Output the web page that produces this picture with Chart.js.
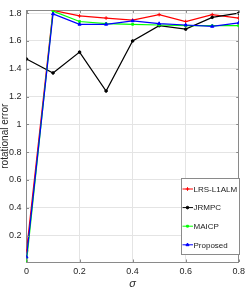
<!DOCTYPE html>
<html>
<head>
<meta charset="utf-8">
<script src="https://cdn.jsdelivr.net/npm/chart.js@4/dist/chart.umd.min.js"></script>
<style>
  body { margin: 0; background: #fff; }
  canvas { display: block; }
</style>
</head>
<body>
<canvas id="chart" width="249" height="291"></canvas>
<script>
// Data

const sigma = [0, 0.1, 0.2, 0.3, 0.4, 0.5, 0.6, 0.7, 0.8];

const lrsL1alm = [0.09, 1.82, 1.78, 1.765, 1.75, 1.79, 1.74, 1.79, 1.765];
const jrmpc = [1.47, 1.37, 1.52, 1.24, 1.6, 1.71, 1.685, 1.77, 1.8];
const maicp = [0.01, 1.815, 1.74, 1.725, 1.72, 1.715, 1.71, 1.71, 1.71];
const proposed = [0.045, 1.795, 1.72, 1.72, 1.745, 1.725, 1.715, 1.705, 1.73];

const xTicks = [0, 0.2, 0.4, 0.6, 0.8];
const yTicks = [0.2, 0.4, 0.6, 0.8, 1, 1.2, 1.4, 1.6, 1.8];

const FONT = "'Liberation Sans', Arial, sans-serif";
const AXIS = "#8a8a8a";
const GRID = "#e4e4e4";

const pts = (ys) => sigma.map((x, i) => ({ x: x, y: ys[i] }));

const series = (label, ys, color, style, radius, order) => ({
  label: label,
  data: pts(ys),
  borderColor: color,
  backgroundColor: color,
  borderWidth: 1.2,
  pointStyle: style,
  pointRadius: radius,
  pointBorderWidth: 1,
  pointHoverRadius: radius,
  tension: 0,
  order: order,
});

// MATLAB-style legend drawn inside the plot box
const boxLegend = {
  id: "boxLegend",
  afterDraw(chart) {
    const ctx = chart.ctx;
    const x0 = 181, y0 = 178, w = 58, h = 76;
    ctx.save();
    ctx.fillStyle = "#fff";
    ctx.fillRect(x0, y0, w, h);
    ctx.strokeStyle = AXIS;
    ctx.lineWidth = 1;
    ctx.strokeRect(x0 + 0.5, y0 + 0.5, w, h);
    ctx.font = "8px " + FONT;
    ctx.textBaseline = "middle";
    chart.data.datasets.forEach((ds, i) => {
      const y = y0 + 11 + i * 18.6;
      ctx.strokeStyle = ds.borderColor;
      ctx.lineWidth = 1;
      ctx.beginPath();
      ctx.moveTo(x0 + 1.5, y);
      ctx.lineTo(x0 + 12, y);
      ctx.stroke();
      ctx.fillStyle = ds.backgroundColor;
      Chart.helpers.drawPoint(ctx, {
        pointStyle: ds.pointStyle,
        radius: ds.pointRadius,
        borderWidth: 1,
        rotation: 0,
      }, x0 + 6.5, y);
      ctx.fillStyle = "#1a1a1a";
      ctx.fillText(ds.label, x0 + 12.5, y + 0.5);
    });
    ctx.restore();
  },
};

// inward tick marks on all four sides
const innerTicks = {
  id: "innerTicks",
  afterDatasetsDraw(chart) {
    const { ctx, chartArea: a, scales } = chart;
    ctx.save();
    ctx.strokeStyle = AXIS;
    ctx.lineWidth = 1;
    ctx.beginPath();
    xTicks.forEach((v) => {
      const px = Math.round(scales.x.getPixelForValue(v)) + 0.5;
      ctx.moveTo(px, a.bottom);
      ctx.lineTo(px, a.bottom - 2.5);
      ctx.moveTo(px, a.top);
      ctx.lineTo(px, a.top + 2.5);
    });
    yTicks.forEach((v) => {
      const py = Math.round(scales.y.getPixelForValue(v)) + 0.5;
      ctx.moveTo(a.left, py);
      ctx.lineTo(a.left + 2.5, py);
      ctx.moveTo(a.right, py);
      ctx.lineTo(a.right - 2.5, py);
    });
    ctx.stroke();
    ctx.restore();
  },
};

const canvas = document.getElementById("chart");

new Chart(canvas, {
  type: "line",
  data: {
    datasets: [
      series("LRS-L1ALM", lrsL1alm, "#ff0000", "cross", 1.8, 3),
      series("JRMPC", jrmpc, "#000000", "circle", 1.3, 2),
      series("MAICP", maicp, "#00ff00", "rect", 1.3, 1),
      series("Proposed", proposed, "#0000ff", "triangle", 1.8, 0),
    ],
  },
  options: {
    responsive: false,
    animation: false,
    devicePixelRatio: 1,
    layout: { padding: { top: 2, right: 6, left: 0, bottom: 0 } },
    plugins: {
      legend: { display: false },
      tooltip: { enabled: false },
    },
    scales: {
      x: {
        type: "linear",
        min: 0,
        max: 0.8,
        afterBuildTicks: (s) => { s.ticks = xTicks.map((v) => ({ value: v })); },
        afterFit: (s) => { s.height = 29; },
        grid: { color: GRID, drawTicks: false },
        border: { color: AXIS },
        ticks: {
          padding: 4,
          color: "#262626",
          font: { family: FONT, size: 9 },
          callback: (v) => String(v),
        },
        title: {
          display: true,
          text: "σ",
          color: "#262626",
          padding: { top: 2, bottom: 0 },
          font: { family: FONT, size: 11, style: "italic" },
        },
      },
      y: {
        min: 0.01,
        max: 1.82,
        afterBuildTicks: (s) => { s.ticks = yTicks.map((v) => ({ value: v })); },
        afterFit: (s) => { s.width = 26.5; },
        grid: { color: GRID, drawTicks: false },
        border: { color: AXIS },
        ticks: {
          padding: 5,
          color: "#262626",
          font: { family: FONT, size: 9 },
          callback: (v) => String(v),
        },
        title: {
          display: true,
          text: "rotational error",
          color: "#262626",
          padding: 0,
          font: { family: FONT, size: 10, lineHeight: 1.1 },
        },
      },
      x2: {
        type: "linear",
        position: "top",
        min: 0,
        max: 0.8,
        ticks: { display: false },
        grid: { drawOnChartArea: false, drawTicks: false },
        border: { color: AXIS },
        afterFit: (s) => { s.height = 0; },
      },
      y2: {
        position: "right",
        min: 0.01,
        max: 1.82,
        ticks: { display: false },
        grid: { drawOnChartArea: false, drawTicks: false },
        border: { color: AXIS },
        afterFit: (s) => { s.width = 0; },
      },
    },
  },
  plugins: [innerTicks, boxLegend],
});
</script>
</body>
</html>
